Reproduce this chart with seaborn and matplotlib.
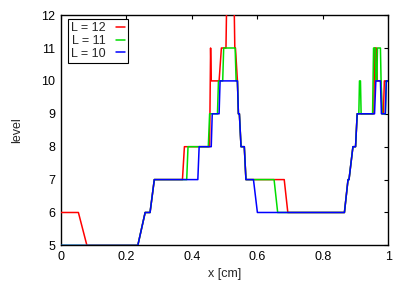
import matplotlib
matplotlib.use("Agg")
from matplotlib import pyplot as plt
from matplotlib.ticker import MultipleLocator
import pandas as pd
import seaborn as sns

# refinement level along x, for three max levels
x_l12 = [0.0, 0.053, 0.079, 0.2346, 0.257, 0.272, 0.285, 0.371, 0.377, 0.454,
         0.457, 0.459, 0.483, 0.490, 0.504, 0.507, 0.528, 0.531, 0.533, 0.539,
         0.542, 0.545, 0.550, 0.560, 0.565, 0.682, 0.693, 0.866, 0.877, 0.880,
         0.892, 0.900, 0.905, 0.956, 0.958, 0.964, 0.966, 0.978, 0.981, 0.985,
         0.988, 1.0]
y_l12 = [6, 6, 5, 5, 6, 6, 7, 7, 8, 8,
         11, 10, 10, 11, 11, 13, 13, 11, 11, 10,
         9, 9, 8, 8, 7, 7, 6, 6, 7, 7,
         8, 8, 9, 9, 11, 11, 10, 10, 9, 9,
         10, 10]

x_l11 = [0.0, 0.2346, 0.257, 0.272, 0.285, 0.384, 0.388, 0.450, 0.454, 0.478,
         0.481, 0.494, 0.497, 0.532, 0.535, 0.539, 0.542, 0.545, 0.550, 0.560,
         0.565, 0.651, 0.662, 0.866, 0.877, 0.880, 0.892, 0.900, 0.905, 0.910,
         0.912, 0.915, 0.917, 0.952, 0.955, 0.960, 0.962, 0.965, 0.967, 0.976,
         0.978, 0.981, 0.991, 0.994, 1.0]
y_l11 = [5, 5, 6, 6, 7, 7, 8, 8, 9, 9,
         10, 10, 11, 11, 10, 10, 9, 9, 8, 8,
         7, 7, 6, 6, 7, 7, 8, 8, 9, 9,
         10, 10, 9, 9, 11, 11, 10, 10, 11, 11,
         10, 9, 9, 10, 10]

x_l10 = [0.0, 0.2346, 0.257, 0.272, 0.285, 0.418, 0.422, 0.459, 0.462, 0.483,
         0.486, 0.539, 0.542, 0.545, 0.550, 0.560, 0.565, 0.588, 0.600, 0.866,
         0.877, 0.880, 0.892, 0.900, 0.905, 0.958, 0.962, 0.976, 0.979, 0.991,
         0.994, 1.0]
y_l10 = [5, 5, 6, 6, 7, 7, 8, 8, 9, 9,
         10, 10, 9, 9, 8, 8, 7, 7, 6, 6,
         7, 7, 8, 8, 9, 9, 10, 10, 9, 9,
         10, 10]

labels = ["L = 12", "L = 11", "L = 10"]
colors = ["#ff0000", "#00dd00", "#0000ff"]

sns.set_theme(style="white")
plt.rcParams["font.family"] = ["Liberation Sans", "DejaVu Sans"]

fig = plt.figure(figsize=(4.07, 2.85), dpi=100)
ax = fig.add_axes([0.150, 0.139, 0.804, 0.808])

for xs, ys, lab, col in zip([x_l12, x_l11, x_l10], [y_l12, y_l11, y_l10],
                            labels, colors):
    df = pd.DataFrame({"x": xs, "level": ys})
    sns.lineplot(data=df, x="x", y="level", sort=False, estimator=None,
                 color=col, linewidth=1.1, label=lab, ax=ax, zorder=3)

ax.set_xlim(0, 1)
ax.set_ylim(5, 12)
ax.yaxis.set_major_locator(MultipleLocator(1))
ax.set_xticks([0, 0.2, 0.4, 0.6, 0.8, 1.0])
ax.set_xticklabels(["0", "0.2", "0.4", "0.6", "0.8", "1"])
ax.tick_params(direction="in", length=3, width=0.8, top=True, right=True,
               labelsize=9, pad=4, colors="black")
for s in ax.spines.values():
    s.set_color("black")
    s.set_linewidth(1.0)
ax.set_xlabel("x [cm]", fontsize=9, labelpad=4)
ax.set_ylabel("level", fontsize=9, labelpad=13)

leg = ax.legend(loc="upper left", bbox_to_anchor=(0.02, 0.985),
                markerfirst=False, handlelength=0.7, handletextpad=0.8,
                labelspacing=0.05, borderpad=0.3, borderaxespad=0.0,
                fontsize=9, fancybox=False, framealpha=1, edgecolor="black")
leg.get_frame().set_linewidth(0.8)

fig.savefig("out.png", dpi=100)
